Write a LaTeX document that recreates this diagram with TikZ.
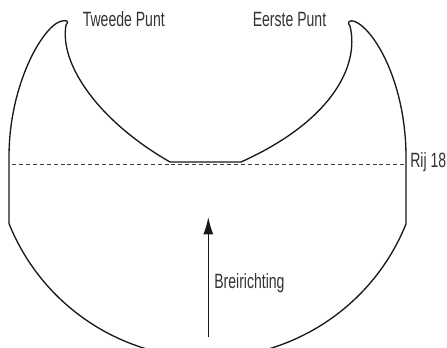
\documentclass[tikz,border=0pt]{standalone}
\usepackage{fontspec}
\newfontfamily\cond[FakeStretch=0.68]{Liberation Sans}
\usetikzlibrary{arrows.meta}
\tikzset{
  outline/.style={line width=1pt, draw=black!90, line join=round},
  rowline/.style={line width=0.6pt, draw=black!75, dash pattern=on 3pt off 2.2pt},
  lbl/.style={inner sep=0pt, anchor=base west, text=black!80, font=\cond\fontsize{15.5}{18}\selectfont},
  dirarrow/.style={line width=1pt, draw=black!90, -{Latex[length=13pt,width=7.5pt]}}
}
\begin{document}
\begin{tikzpicture}[x=0.75pt,y=0.75pt]
\useasboundingbox (0,0) rectangle (447,347);
\begin{scope}
\clip (0,0) rectangle (447,347);
\draw[outline] (9,123) -- (9,190)
  .. controls (9,262) and (42,319) .. (60,325.5)
  .. controls (66,327.5) and (70,326) .. (66,322)
  .. controls (59,282) and (100,225) .. (170,185)
  -- (241,185)
  .. controls (330,225) and (360,280) .. (350,321)
  .. controls (346,325) and (350,327.5) .. (355,325.5)
  .. controls (376,316) and (406,262) .. (406,190)
  -- (406,123)
  arc[start angle=338, end angle=202, radius=214] -- cycle;
\end{scope}
\coordinate (d0) at (12,183);
\coordinate (d1) at (404,183);
\draw[rowline] (d0) -- (d1);
\coordinate (a0) at (208.3,10);
\coordinate (a1) at (208.3,130);
\draw[dirarrow] (a0) -- (a1);
\node[lbl] (t2) at (82.5,320.3) {Tweede Punt};
\node[lbl] (e1) at (252.5,320.3) {Eerste Punt};
\node[lbl] (rij) at (410,179.3) {Rij 18};
\node[lbl] (br) at (214,58.7) {Breirichting};
\end{tikzpicture}
\end{document}
